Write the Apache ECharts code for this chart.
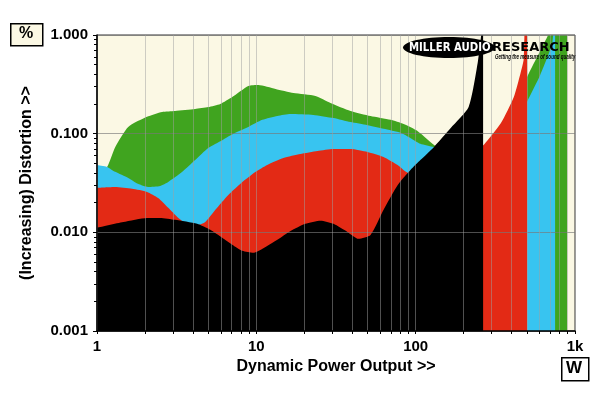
<!DOCTYPE html>
<html>
<head>
<meta charset="utf-8">
<script src="https://cdn.jsdelivr.net/npm/echarts@6/dist/echarts.min.js"></script>
<style>
  html, body { margin: 0; padding: 0; background: #fff; }
  #main { width: 600px; height: 398px; }
</style>
</head>
<body>
<div id="main"></div>
<script>
// power (W) and distortion (%), one pair of arrays per trace
var blackW   = [1, 1.46, 2.06, 2.49, 3.09, 4.25, 5.14, 6.11, 7.06, 8.17, 9.57, 11.07, 13.55, 16.4, 20.3, 25.3, 30.5, 37.3, 43.8, 52.1, 62.9, 77, 93, 107, 130, 166, 215, 245, 260, 265];
var blackPct = [0.0111, 0.0127, 0.0140, 0.0140, 0.0134, 0.0122, 0.0106, 0.0088, 0.0075, 0.0065, 0.0062, 0.0069, 0.0084, 0.0103, 0.0122, 0.0131, 0.0122, 0.0101, 0.0086, 0.0094, 0.0169, 0.030, 0.043, 0.054, 0.073, 0.114, 0.186, 0.52, 1.1, 1.2];

var redW   = [1, 1.30, 1.66, 2.06, 2.42, 2.80, 3.19, 3.68, 4.25, 4.78, 5.53, 6.67, 8.17, 9.86, 11.7, 14.8, 18.9, 24.2, 30.5, 39, 49.9, 62.9, 77, 90, 120, 180, 250, 268, 343, 413, 455, 476, 485, 500];
var redPct = [0.0282, 0.0288, 0.0276, 0.0257, 0.0223, 0.0177, 0.0143, 0.0120, 0.0118, 0.0127, 0.0169, 0.0239, 0.0324, 0.0409, 0.0482, 0.0567, 0.0622, 0.0668, 0.070, 0.070, 0.0653, 0.058, 0.048, 0.040, 0.045, 0.058, 0.072, 0.077, 0.128, 0.235, 0.41, 0.56, 1.2, 1.2];

var blueW   = [1, 1.156, 1.30, 1.57, 1.81, 2.09, 2.49, 2.80, 3.43, 4.13, 4.99, 6.11, 7.38, 8.91, 10.9, 13.55, 16.4, 22.8, 30.5, 39, 49.9, 62.9, 80.5, 93, 107, 130, 170, 268, 343, 413, 455, 500, 604, 718, 729, 740, 750];
var bluePct = [0.048, 0.046, 0.041, 0.0356, 0.031, 0.0288, 0.0295, 0.0324, 0.041, 0.054, 0.0716, 0.086, 0.102, 0.117, 0.138, 0.151, 0.158, 0.155, 0.144, 0.131, 0.122, 0.112, 0.102, 0.090, 0.079, 0.073, 0.068, 0.066, 0.085, 0.11, 0.15, 0.21, 0.39, 0.8, 1.0, 1.2, 1.2];

var greenW   = [1, 1.156, 1.30, 1.57, 2.06, 2.56, 3.09, 4.13, 4.99, 5.94, 7.06, 8.91, 10.3, 13.2, 17.1, 23.5, 29.2, 39, 52.1, 69.6, 84, 103, 137, 170, 268, 343, 413, 470, 500, 604, 678, 700, 892];
var greenPct = [0.040, 0.046, 0.073, 0.117, 0.148, 0.166, 0.170, 0.178, 0.186, 0.200, 0.235, 0.304, 0.311, 0.284, 0.258, 0.241, 0.205, 0.170, 0.151, 0.138, 0.125, 0.106, 0.073, 0.068, 0.065, 0.09, 0.15, 0.28, 0.375, 0.69, 1.0, 1.2, 1.2];

// tick positions
var xTicks = [1, 2, 3, 4, 5, 6, 7, 8, 9, 10, 20, 30, 40, 50, 60, 70, 80, 90, 100, 200, 300, 400, 500, 600, 700, 800, 900, 1000];
var xLabels = [1, 10, 100, 1000];
var yMajor = [0.001, 0.01, 0.1, 1];
var yMinor = [0.002, 0.003, 0.004, 0.005, 0.006, 0.007, 0.008, 0.009, 0.02, 0.03, 0.04, 0.05, 0.06, 0.07, 0.08, 0.09, 0.2, 0.3, 0.4, 0.5, 0.6, 0.7, 0.8, 0.9];

function zip(a, b) {
    var out = [];
    for (var i = 0; i < a.length; i++) {
        out.push([a[i], b[i]]);
    }
    return out;
}

function areaSeries(name, color, xs, ys) {
    return {
        name: name,
        type: 'line',
        smooth: 0.2,
        showSymbol: false,
        symbol: 'none',
        lineStyle: { width: 0 },
        areaStyle: { color: color, opacity: 1, origin: 'start' },
        data: zip(xs, ys)
    };
}

var FONT = 'Liberation Sans';
var myChart = echarts.init(document.getElementById('main'));

var option = {
    animation: false,
    backgroundColor: '#fff',
    grid: {
        left: 97, right: 25, top: 35, bottom: 67,
        show: true,
        backgroundColor: '#fbf8e4',
        borderColor: '#333',
        borderWidth: 1
    },
    xAxis: {
        type: 'log',
        logBase: 10,
        min: 1,
        max: 1000,
        z: 5,
        name: 'Dynamic Power Output >>',
        nameLocation: 'middle',
        nameGap: 28,
        nameTextStyle: { color: '#000', fontWeight: 'bold', fontSize: 16, fontFamily: FONT },
        axisLine: { lineStyle: { color: '#000', width: 1.5 } },
        axisTick: { show: true, customValues: xTicks, length: 3, lineStyle: { color: '#000' } },
        axisLabel: {
            customValues: xLabels,
            margin: 8,
            color: '#000',
            fontWeight: 'bold',
            fontSize: 15,
            fontFamily: FONT,
            formatter: function (v) { return v >= 1000 ? (v / 1000) + 'k' : String(v); }
        },
        splitLine: { show: true, lineStyle: { color: 'rgba(160,160,160,0.5)', width: 1 } }
    },
    yAxis: [{
        type: 'log',
        logBase: 10,
        min: 0.001,
        max: 1,
        z: 5,
        name: '(Increasing) Distortion >>',
        nameLocation: 'middle',
        nameGap: 62,
        nameTextStyle: { color: '#000', fontWeight: 'bold', fontSize: 16, fontFamily: FONT },
        axisLine: { show: true, lineStyle: { color: '#000', width: 1.5 } },
        axisTick: { show: true, customValues: yMajor, length: 4, lineStyle: { color: '#000' } },
        axisLabel: {
            customValues: yMajor,
            margin: 9,
            color: '#000',
            fontWeight: 'bold',
            fontSize: 15,
            fontFamily: FONT,
            formatter: function (v) { return v.toFixed(3); }
        },
        splitLine: { show: true, lineStyle: { color: 'rgba(120,120,120,0.65)', width: 1 } }
    }, {
        type: 'log',
        logBase: 10,
        min: 0.001,
        max: 1,
        position: 'left',
        offset: 0,
        z: 6,
        axisLine: { show: true, lineStyle: { color: 'rgba(0,0,0,0)' } },
        axisTick: { show: true, customValues: yMinor, length: 3, lineStyle: { color: '#000' } },
        axisLabel: { show: false },
        splitLine: { show: false }
    }],
    series: [
        areaSeries('green', '#40a41f', greenW, greenPct),
        areaSeries('blue', '#38c4f0', blueW, bluePct),
        areaSeries('red', '#e32a15', redW, redPct),
        areaSeries('black', '#000000', blackW, blackPct)
    ],
    graphic: [
        // unit boxes
        {
            type: 'rect', left: 10, top: 23, z: 10,
            shape: { width: 32, height: 22 },
            style: { fill: '#fbf8e4', stroke: '#000', lineWidth: 1.5 }
        },
        {
            type: 'text', left: 19, top: 26, z: 11,
            style: { text: '%', fill: '#000', font: 'bold 16px "Liberation Sans"' }
        },
        {
            type: 'rect', left: 561, top: 357, z: 10,
            shape: { width: 27, height: 23 },
            style: { fill: '#fff', stroke: '#000', lineWidth: 1.5 }
        },
        {
            type: 'text', left: 566, top: 360, z: 11,
            style: { text: 'W', fill: '#000', font: 'bold 17px "Liberation Sans"' }
        },
        // logo
        {
            type: 'ellipse', z: 10,
            shape: { cx: 449, cy: 47.5, rx: 46, ry: 10.5 },
            style: { fill: '#000' }
        },
        {
            type: 'text', z: 11, x: 409, y: 41, scaleX: 0.78,
            style: { text: 'MILLER AUDIO', fill: '#fff', font: 'bold 13px "DejaVu Sans"' }
        },
        {
            type: 'text', z: 11, x: 492, y: 41,
            style: { text: 'RESEARCH', fill: '#000', font: 'bold 13px "DejaVu Sans"' }
        },
        {
            type: 'text', z: 11, x: 495, y: 54, scaleX: 0.7,
            style: { text: 'Getting the measure of sound quality', fill: '#000', font: 'italic bold 6.5px "Liberation Sans"' }
        }
    ]
};

myChart.setOption(option);
</script>
</body>
</html>
